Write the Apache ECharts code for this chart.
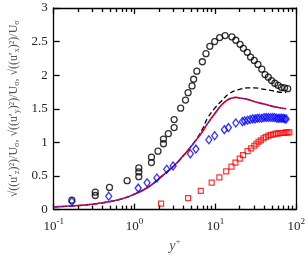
<!DOCTYPE html>
<html><head><meta charset="utf-8">
<script src="https://cdn.jsdelivr.net/npm/echarts@6/dist/echarts.min.js"></script>
<style>html,body{margin:0;padding:0;background:#fff}#c{width:308px;height:258px}</style>
</head><body><div id="c"></div>
<script>
// Tick labels
const xTickExps = [-1, 0, 1, 2];
const xTickLabels = ['10{sup|-1}', '10{sup|0}', '10{sup|1}', '10{sup|2}'];
const yTickValues = [0, 0.5, 1, 1.5, 2, 2.5, 3];

// Black open circles
const circX = [0.168, 0.327, 0.327, 0.49, 0.81, 1.13, 1.13, 1.13, 1.62, 1.62, 1.95, 2.28, 2.28, 2.62, 3.09, 3.09, 3.72, 4.27, 4.6, 5.14, 5.38, 5.9, 6.9, 7.65, 8.54, 9.8, 11.3, 13.2, 16.0, 17.9, 20.2, 22.2, 24.8, 27.2, 30.2, 33.6, 37.5, 41.1, 45.1, 49.5, 54.3, 59.6, 65.4, 71.7, 78.5];
const circY = [0.14, 0.26, 0.21, 0.33, 0.43, 0.62, 0.56, 0.49, 0.78, 0.70, 0.87, 1.05, 0.98, 1.13, 1.22, 1.34, 1.51, 1.63, 1.74, 1.84, 1.94, 2.06, 2.20, 2.32, 2.43, 2.50, 2.56, 2.59, 2.57, 2.52, 2.46, 2.40, 2.34, 2.27, 2.22, 2.16, 2.09, 2.01, 1.97, 1.92, 1.88, 1.85, 1.82, 1.81, 1.80];

// Blue open diamonds
const diaX = [0.168, 0.48, 1.11, 1.43, 1.89, 2.5, 3.0, 4.9, 5.74, 8.3, 9.8, 12.9, 14.5, 17.9, 21.6, 23, 25, 27, 29, 31, 33, 35, 37.5, 40, 42.5, 45, 48, 51, 54, 57, 60, 63, 66, 69, 72, 75];
const diaY = [0.12, 0.20, 0.32, 0.40, 0.47, 0.60, 0.65, 0.83, 0.90, 1.04, 1.10, 1.19, 1.22, 1.29, 1.31, 1.32, 1.33, 1.34, 1.35, 1.35, 1.36, 1.36, 1.36, 1.37, 1.37, 1.37, 1.37, 1.37, 1.37, 1.36, 1.36, 1.36, 1.36, 1.36, 1.35, 1.35];

// Red open squares
const sqX = [2.13, 4.6, 6.6, 9.0, 11.2, 13.6, 15.8, 17.7, 20, 22, 25, 27.7, 30.3, 32.2, 34.2, 36.5, 39.3, 42, 45.2, 48.5, 52, 55.5, 59, 62.5, 66, 70, 74, 78, 82];
const sqY = [0.09, 0.17, 0.28, 0.40, 0.48, 0.57, 0.64, 0.70, 0.76, 0.81, 0.87, 0.91, 0.95, 0.98, 1.01, 1.03, 1.06, 1.08, 1.10, 1.11, 1.12, 1.13, 1.13, 1.14, 1.14, 1.14, 1.15, 1.15, 1.15];

// Solid red / dotted blue curve
const curveX = [0.1, 0.2, 0.3, 0.5, 0.7, 1, 1.5, 2, 3, 4, 5, 6, 7, 8, 10, 12, 14, 16, 18, 20, 25, 30, 40, 50, 60, 75];
const curveY = [0.04, 0.06, 0.08, 0.12, 0.16, 0.23, 0.34, 0.46, 0.64, 0.80, 0.94, 1.06, 1.17, 1.28, 1.44, 1.56, 1.63, 1.66, 1.67, 1.66, 1.64, 1.61, 1.57, 1.54, 1.52, 1.50];

// Black dashed curve
const dashX = [0.1, 0.2, 0.3, 0.5, 0.7, 1, 1.5, 2, 3, 4, 5, 6, 7, 8, 10, 12, 15, 20, 25, 30, 40, 50, 60, 75];
const dashY = [0.04, 0.06, 0.08, 0.12, 0.16, 0.23, 0.34, 0.46, 0.64, 0.80, 0.94, 1.07, 1.21, 1.36, 1.52, 1.62, 1.73, 1.79, 1.81, 1.81, 1.79, 1.77, 1.75, 1.74];

const zip = (xs, ys) => xs.map((x, i) => [x, ys[i]]);
// minor tick positions in log10 space (axis decoration)
const minorExp = [];
for (let k = -1; k < 2; k++) for (let m = 2; m <= 9; m++) minorExp.push(k + Math.log10(m));

const serif = 'Liberation Serif';
const axisLine = { show: true, onZero: false, lineStyle: { color: '#000', width: 1.3 } };

const chart = echarts.init(document.getElementById('c'), null, { renderer: 'canvas' });
const supRich = { fontFamily: serif, fontSize: 9, verticalAlign: 'top', padding: [0, 0, 8, 0], color: '#222' };
const minorAxis = (pos) => ({
  type: 'value', min: -1, max: 2, position: pos,
  axisLine: { show: false, onZero: false }, splitLine: { show: false },
  axisLabel: { show: true, customValues: minorExp, formatter: () => '' },
  axisTick: { show: true, inside: true, length: 4, lineStyle: { color: '#000', width: 1.3 }, customValues: minorExp }
});
chart.setOption({
  animation: false,
  grid: { left: 48, right: 11, top: 6, bottom: 42 },
  xAxis: [
    { type: 'log', logBase: 10, min: 0.1, max: 100, position: 'bottom',
      axisLine, splitLine: { show: false },
      axisTick: { show: true, inside: true, length: 6, lineStyle: { color: '#000', width: 1.3 } },
      axisLabel: { margin: 8, fontFamily: serif, fontSize: 13, color: '#222', rich: { sup: supRich },
        formatter: v => { const i = xTickExps.indexOf(Math.round(Math.log10(v))); return i >= 0 ? xTickLabels[i] : ''; } },
      name: '{it|y}{sup|+}', nameLocation: 'middle', nameGap: 26,
      nameTextStyle: { fontFamily: serif, fontSize: 14, color: '#555',
        rich: { it: { fontFamily: serif, fontStyle: 'italic', fontSize: 14, color: '#555' },
                sup: { fontFamily: serif, fontSize: 9, verticalAlign: 'top', padding: [0, 0, 8, 0], color: '#555' } } } },
    { type: 'log', logBase: 10, min: 0.1, max: 100, position: 'top',
      axisLine, splitLine: { show: false }, axisLabel: { show: true, formatter: () => '' },
      axisTick: { show: true, inside: true, length: 6, lineStyle: { color: '#000', width: 1.3 } } },
    minorAxis('bottom'),
    minorAxis('top')
  ],
  yAxis: [
    { type: 'value', min: 0, max: 3, interval: 0.5, position: 'left',
      axisLine, splitLine: { show: false },
      axisTick: { show: true, inside: true, length: 6, lineStyle: { color: '#000', width: 1.3 } },
      axisLabel: { fontFamily: serif, fontSize: 13, color: '#222', margin: 6 },
      name: '√((u′{s|z})²)/U{s|σ}, √((u′{s|y})²)/U{s|σ}, √((u′{s|x})²)/U{s|σ}',
      nameLocation: 'middle', nameGap: 31, nameRotate: 90,
      nameTextStyle: { fontFamily: serif, fontSize: 12, color: '#555',
        rich: { s: { fontFamily: serif, fontSize: 8, verticalAlign: 'bottom', padding: [5, 0, 0, 0], color: '#555' } } } },
    { type: 'value', min: 0, max: 3, interval: 0.5, position: 'right',
      axisLine, splitLine: { show: false }, axisLabel: { show: true, formatter: () => '' },
      axisTick: { show: true, inside: true, length: 6, lineStyle: { color: '#000', width: 1.3 } } }
  ],
  series: [
    { type: 'line', data: zip(dashX, dashY), smooth: true, showSymbol: false, symbol: 'none',
      lineStyle: { color: '#000', width: 1.3, type: [5, 3] }, z: 2 },
    { type: 'line', data: zip(curveX, curveY), smooth: true, showSymbol: false, symbol: 'none',
      lineStyle: { color: '#ff0000', width: 1.6 }, z: 3 },
    { type: 'line', data: zip(curveX, curveY), smooth: true, showSymbol: false, symbol: 'none',
      lineStyle: { color: '#2020ff', width: 1.3, type: [1.5, 1.5] }, z: 4 },
    { type: 'scatter', data: zip(circX, circY), symbol: 'circle', symbolSize: 6,
      itemStyle: { color: 'rgba(0,0,0,0)', borderColor: '#000', borderWidth: 1.3 }, z: 5 },
    { type: 'scatter', data: zip(diaX, diaY), symbol: 'diamond', symbolSize: [6, 8],
      itemStyle: { color: 'rgba(0,0,0,0)', borderColor: '#0000ff', borderWidth: 1.3 }, z: 5 },
    { type: 'scatter', data: zip(sqX, sqY), symbol: 'rect', symbolSize: 5,
      itemStyle: { color: 'rgba(0,0,0,0)', borderColor: '#ff0000', borderWidth: 1.2 }, z: 5 }
  ]
});
</script></body></html>
